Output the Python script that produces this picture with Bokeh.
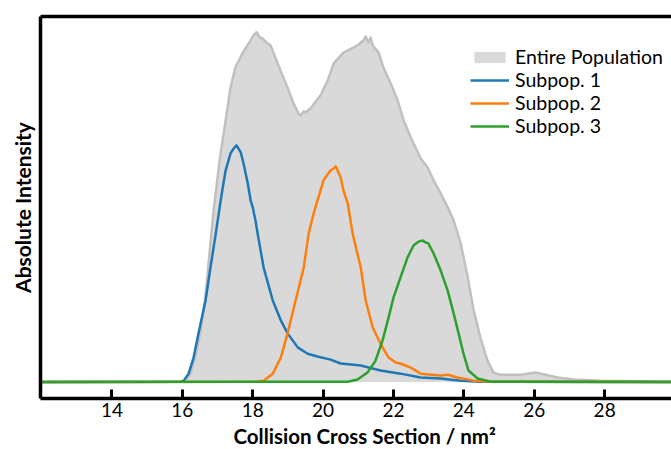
from bokeh.plotting import figure
from bokeh.models import LinearAxis, FixedTicker, Legend, LegendItem, Range1d, Title
from bokeh.embed import file_html
from bokeh.resources import INLINE

# Collision cross section (nm^2) and absolute intensity (a.u.) per distribution
entire_ccs = [12.0, 15.95, 16.09, 16.24, 16.38, 16.52, 16.66, 16.78, 16.89, 17.06, 17.23, 17.37,
              17.51, 17.71, 17.94, 18.02, 18.11, 18.2, 18.28, 18.39, 18.51, 18.62, 18.71, 18.88,
              18.99, 19.16, 19.30, 19.36, 19.45, 19.50, 19.64, 19.93, 20.13, 20.30, 20.58, 20.87,
              21.01, 21.15, 21.21, 21.29, 21.35, 21.41, 21.58, 21.72, 21.92, 22.12, 22.29, 22.49,
              22.77, 22.97, 23.14, 23.34, 23.54, 23.71, 23.91, 24.11, 24.28, 24.47, 24.67, 24.84,
              25.04, 25.61, 26.04, 26.32, 26.66, 27.12, 27.88, 30.0]
entire_int = [0.0, 0.1, 0.4, 2.7, 7.6, 14.7, 24.7, 37.6, 49.0, 63.3, 74.7, 84.1,
              89.9, 93.9, 97.6, 99.0, 99.9, 98.4, 98.1, 97.0, 96.1, 93.3, 91.0, 86.7,
              84.1, 79.6, 76.7, 76.1, 77.3, 77.0, 78.1, 81.9, 86.1, 91.0, 94.1, 95.6,
              96.4, 97.6, 98.7, 97.0, 98.4, 96.1, 94.1, 89.6, 85.3, 80.4, 74.7, 69.9,
              63.9, 61.3, 57.6, 53.9, 49.9, 46.1, 39.6, 29.9, 20.4, 12.7, 6.1, 2.7,
              2.1, 2.1, 2.7, 2.1, 1.3, 0.7, 0.4, 0.1]

sub1_ccs = [12.0, 15.95, 16.04, 16.18, 16.32, 16.46, 16.66, 16.80, 16.95, 17.09, 17.15, 17.23,
            17.37, 17.46, 17.54, 17.66, 17.74, 17.86, 17.94, 18.00, 18.08, 18.14, 18.31, 18.57,
            18.80, 18.99, 19.28, 19.56, 19.84, 20.21, 20.50, 21.07, 21.63, 22.20, 22.77, 23.34,
            23.91, 24.47, 30.0]
sub1_int = [0.0, 0.1, 0.4, 2.4, 7.0, 13.9, 23.3, 32.7, 42.4, 51.9, 55.6, 60.4,
            65.3, 66.7, 67.6, 65.6, 62.4, 56.7, 51.9, 49.9, 46.1, 42.4, 32.7, 23.3,
            17.6, 13.9, 9.9, 8.1, 7.3, 6.4, 5.3, 4.7, 3.3, 2.4, 1.3, 1.0,
            0.4, 0.1, 0.0]

sub2_ccs = [12.0, 18.08, 18.31, 18.57, 18.80, 18.99, 19.22, 19.45, 19.59, 19.73, 19.84, 19.87,
            20.01, 20.21, 20.30, 20.36, 20.50, 20.58, 20.70, 20.78, 20.84, 21.07, 21.21, 21.41,
            21.63, 21.86, 22.06, 22.20, 22.49, 22.77, 23.34, 23.54, 23.82, 24.28, 24.76, 30.0]
sub2_int = [0.0, 0.1, 0.4, 2.4, 7.0, 13.9, 23.3, 32.7, 42.4, 48.1, 51.9, 52.7,
            57.6, 60.4, 61.0, 61.6, 58.4, 54.7, 51.0, 46.1, 42.4, 32.7, 23.3, 15.6,
            11.0, 7.0, 5.6, 5.3, 4.1, 2.4, 1.9, 2.1, 1.3, 0.4, 0.1, 0.0]

sub3_ccs = [12.0, 20.70, 20.98, 21.26, 21.49, 21.69, 21.86, 22.00, 22.20, 22.40, 22.57, 22.71,
            22.83, 22.91, 22.99, 23.14, 23.34, 23.54, 23.71, 23.85, 23.99, 24.13, 24.39, 24.76,
            30.0]
sub3_int = [0.0, 0.1, 0.7, 2.7, 6.1, 11.9, 18.4, 24.1, 29.9, 35.6, 39.0, 40.1,
            40.4, 39.9, 39.6, 36.7, 31.9, 26.1, 19.6, 13.9, 8.1, 3.3, 1.0, 0.1,
            0.0]

x_ticks = [14, 16, 18, 20, 22, 24, 26, 28]
series_names = ["Entire Population", "Subpop. 1", "Subpop. 2", "Subpop. 3"]
x_title = "Collision Cross Section / nm²"
y_title = "Absolute Intensity"

FONT = "Lato"

p = figure(width=671, height=449, output_backend="svg", toolbar_location=None,
           x_range=Range1d(11.97, 29.9), y_range=Range1d(-4.7, 104.4),
           min_border_left=40, min_border_right=0, min_border_top=16, min_border_bottom=51,
           x_axis_location="below", y_axis_location="left")
p.outline_line_color = None
p.grid.visible = False
p.background_fill_color = "white"
p.border_fill_color = "white"

# distributions
area = p.varea(x=entire_ccs, y1=0, y2=entire_int, fill_color="#d9d9d9")
p.line(x=entire_ccs, y=entire_int, line_color="#c0c0c0", line_width=2.5, line_join="round")
l1 = p.line(x=sub1_ccs, y=sub1_int, line_color="#1f77b4", line_width=2.5, line_join="round")
l2 = p.line(x=sub2_ccs, y=sub2_int, line_color="#ff7f0e", line_width=2.5, line_join="round")
l3 = p.line(x=sub3_ccs, y=sub3_int, line_color="#2ca02c", line_width=2.5, line_join="round")

# bottom axis: inward ticks
xa = p.xaxis[0]
xa.ticker = FixedTicker(ticks=x_ticks)
xa.major_tick_in = 9
xa.major_tick_out = 0
xa.minor_tick_line_color = None
xa.major_tick_line_width = 3
xa.axis_line_width = 3.5
xa.major_label_standoff = 4
xa.major_label_text_font = FONT
xa.major_label_text_font_size = "19px"
xa.major_label_text_color = "black"

# x title below the axis
p.add_layout(Title(text=x_title, align="left", offset=193, standoff=4,
                   text_font=FONT, text_font_style="bold", text_font_size="20.5px",
                   text_color="black"), "below")

# left axis: plain line with title
ya = p.yaxis[0]
ya.ticker = FixedTicker(ticks=[])
ya.major_tick_in = 0
ya.major_tick_out = 0
ya.minor_tick_line_color = None
ya.major_label_standoff = 0
ya.axis_line_width = 3.5
ya.axis_label = y_title
ya.axis_label_text_font = FONT
ya.axis_label_text_font_style = "bold"
ya.axis_label_text_font_size = "21px"
ya.axis_label_text_color = "black"
ya.axis_label_standoff = 6

# top frame line
top = LinearAxis(ticker=FixedTicker(ticks=[]), major_tick_in=0, major_tick_out=0,
                 minor_tick_line_color=None, major_label_standoff=0, axis_line_width=3.5)
p.add_layout(top, "above")

legend = Legend(items=[
    LegendItem(label=series_names[0], renderers=[area]),
    LegendItem(label=series_names[1], renderers=[l1]),
    LegendItem(label=series_names[2], renderers=[l2]),
    LegendItem(label=series_names[3], renderers=[l3]),
], location=(430, 261))
legend.border_line_color = None
legend.background_fill_alpha = 0
legend.padding = 0
legend.margin = 0
legend.spacing = 0
legend.glyph_width = 39
legend.glyph_height = 14
legend.label_standoff = 6
legend.label_height = 20
legend.label_text_font = FONT
legend.label_text_font_size = "19.5px"
legend.label_text_color = "black"
p.add_layout(legend)

open("out.html", "w").write(file_html(p, INLINE))
